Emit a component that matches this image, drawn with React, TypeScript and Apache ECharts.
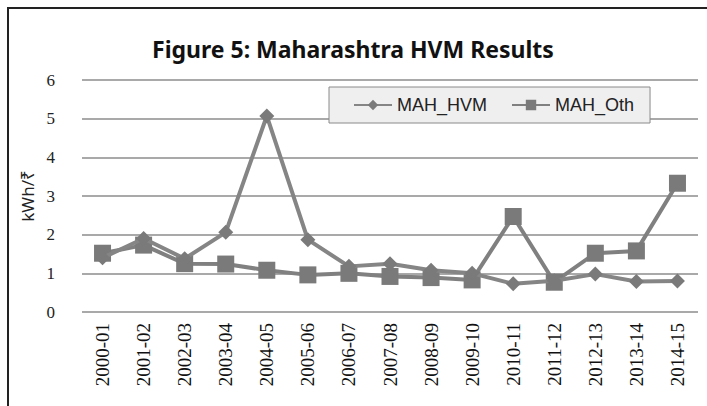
import React, { useEffect, useRef } from "react";
import * as echarts from "echarts";

const categories = ["2000-01","2001-02","2002-03","2003-04","2004-05","2005-06","2006-07","2007-08","2008-09","2009-10","2010-11","2011-12","2012-13","2013-14","2014-15"];
const mahHvm = [1.4, 1.9, 1.38, 2.06, 5.07, 1.87, 1.18, 1.25, 1.08, 1.0, 0.73, 0.81, 0.98, 0.79, 0.8];
const mahOth = [1.52, 1.73, 1.25, 1.24, 1.08, 0.96, 1.0, 0.92, 0.89, 0.83, 2.47, 0.77, 1.52, 1.58, 3.33];
const yTicks = [0, 1, 2, 3, 4, 5, 6];

export default function App() {
  const ref = useRef<HTMLDivElement>(null);
  useEffect(() => {
    const chart = echarts.init(ref.current!, null, { renderer: "svg" });
    chart.setOption({
      animation: false,
      backgroundColor: "#ffffff",
      title: {
        text: "Figure 5: Maharashtra HVM Results",
        left: 147,
        top: 32,
        textStyle: { fontFamily: "Noto Sans, sans-serif", fontWeight: "bold", fontSize: 23, color: "#111" },
      },
      graphic: [
        { type: "rect", shape: { x: 8, y: 8, width: 720, height: 420 }, style: { fill: "none", stroke: "#222", lineWidth: 2 }, silent: true },
      ],
      legend: {
        left: 329,
        top: 87,
        data: ["MAH_HVM", "MAH_Oth"],
        backgroundColor: "#efefef",
        borderColor: "#8a8a8a",
        borderWidth: 1,
        borderRadius: 0,
        padding: [9, 16, 9, 24],
        itemGap: 24,
        itemWidth: 38,
        itemHeight: 13,
        textStyle: { fontFamily: "Liberation Sans, Arial, sans-serif", fontSize: 18, color: "#222" },
      },
      grid: { left: 82, right: 9, top: 80, bottom: 94, containLabel: false },
      xAxis: {
        type: "category",
        data: categories,
        boundaryGap: true,
        axisLine: { show: false },
        axisTick: { show: false },
        axisLabel: { rotate: 90, fontFamily: "Liberation Serif, serif", fontSize: 19, color: "#111", margin: 11, interval: 0 },
      },
      yAxis: {
        type: "value",
        min: 0,
        max: 6,
        interval: 1,
        name: "kWh/₹",
        nameLocation: "middle",
        nameGap: 38,
        nameRotate: 90,
        nameTextStyle: { fontFamily: "Noto Sans, sans-serif", fontSize: 17, color: "#222" },
        axisLine: { show: false },
        axisTick: { show: false },
        axisLabel: { fontFamily: "Liberation Serif, serif", fontSize: 17, color: "#222", margin: 27, align: "right", formatter: (v: number) => (yTicks.includes(v) ? String(v) : "") },
        splitLine: { lineStyle: { color: "#8c8c8c", width: 1.5 } },
      },
      series: [
        {
          name: "MAH_HVM",
          type: "line",
          data: mahHvm,
          symbol: "diamond",
          symbolSize: 15,
          lineStyle: { color: "#858585", width: 4 },
          itemStyle: { color: "#7a7a7a" },
          z: 3,
        },
        {
          name: "MAH_Oth",
          type: "line",
          data: mahOth,
          symbol: "rect",
          symbolSize: 17,
          lineStyle: { color: "#808080", width: 4 },
          itemStyle: { color: "#7a7a7a" },
          z: 2,
        },
      ],
    });
    return () => chart.dispose();
  }, []);
  return <div ref={ref} style={{ width: 707, height: 406, position: "absolute", left: 0, top: 0 }} />;
}
